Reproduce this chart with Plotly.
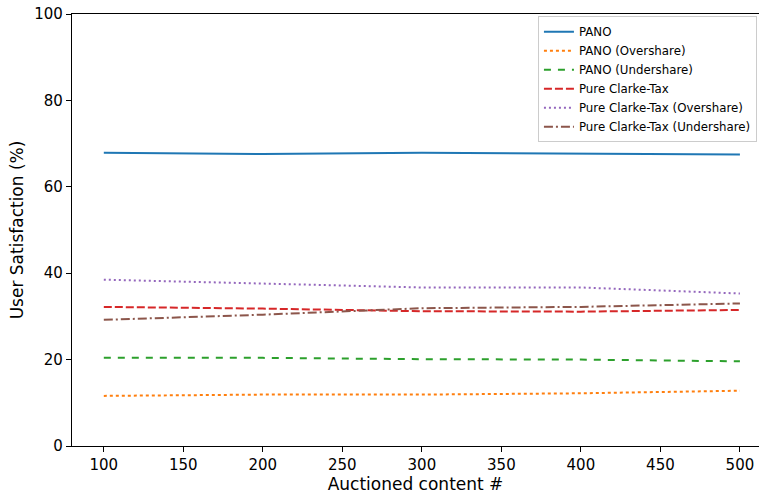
import plotly.graph_objects as go

# Auctioned content counts on the x axis
auctioned = [100, 200, 300, 400, 500]

# User satisfaction (%) per mechanism
pano = [67.9, 67.6, 67.9, 67.7, 67.5]
pano_over = [11.6, 11.9, 11.9, 12.2, 12.8]
pano_under = [20.4, 20.4, 20.1, 20.0, 19.6]
clarke = [32.2, 31.8, 31.2, 31.1, 31.5]
clarke_over = [38.5, 37.6, 36.7, 36.7, 35.3]
clarke_under = [29.2, 30.4, 31.9, 32.2, 33.0]

series = [
    ("PANO", pano, "#1f77b4", "solid"),
    ("PANO (Overshare)", pano_over, "#ff7f0e", "3px,3px"),
    ("PANO (Undershare)", pano_under, "#2ca02c", "7px,7px"),
    ("Pure Clarke-Tax", clarke, "#d62728", "8px,3px"),
    ("Pure Clarke-Tax (Overshare)", clarke_over, "#9467bd", "2px,3px"),
    ("Pure Clarke-Tax (Undershare)", clarke_under, "#8c564b", "9px,3px,2px,3px"),
]

fig = go.Figure()
for name, vals, color, dash in series:
    fig.add_trace(go.Scatter(
        x=auctioned, y=vals, name=name, mode="lines",
        line=dict(color=color, width=2, dash=dash),
    ))

fig.update_layout(
    width=759, height=497,
    margin=dict(l=72, r=0, t=14, b=51),
    plot_bgcolor="white", paper_bgcolor="white",
    font=dict(family="DejaVu Sans", color="black"),
    showlegend=True,
    legend=dict(
        x=0.997, y=0.995, xanchor="right", yanchor="top",
        bgcolor="rgba(255,255,255,0.8)", bordercolor="#cccccc", borderwidth=1,
        font=dict(size=11.8), tracegroupgap=0, itemwidth=30,
    ),
)
fig.update_xaxes(
    range=[80, 512], tickvals=[100, 150, 200, 250, 300, 350, 400, 450, 500],
    showline=True, linecolor="black", linewidth=1.2, mirror=True,
    ticks="outside", ticklen=5, tickcolor="black", showgrid=False, zeroline=False,
    tickfont=dict(size=15),
    title=dict(text="Auctioned content #", font=dict(size=17), standoff=3),
)
fig.update_yaxes(
    range=[0, 100], tickvals=[0, 20, 40, 60, 80, 100],
    showline=True, linecolor="black", linewidth=1.2, mirror=False,
    ticks="outside", ticklen=5, tickcolor="black", showgrid=False, zeroline=False,
    tickfont=dict(size=15),
    title=dict(text="User Satisfaction (%)", font=dict(size=17), standoff=6),
)

fig.write_html("out.html")
